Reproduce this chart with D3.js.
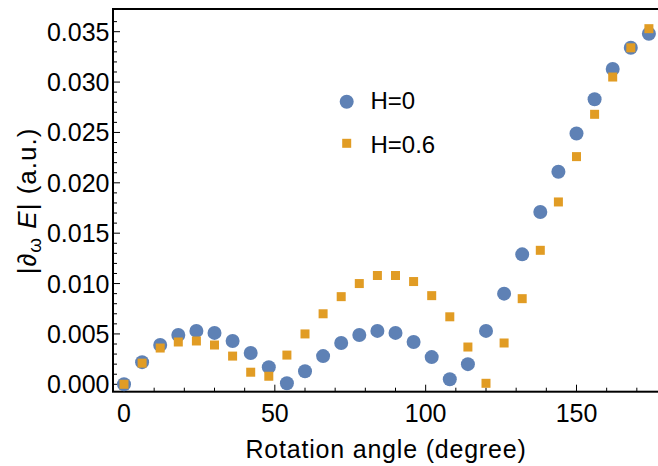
<!DOCTYPE html>
<html>
<head>
<meta charset="utf-8">
<script src="https://cdn.jsdelivr.net/npm/d3@7"></script>
<style>
  html, body { margin: 0; padding: 0; background: #fff; }
  svg { display: block; font-family: "Liberation Sans", Arial, sans-serif; }
</style>
</head>
<body>
<svg id="chart" width="658" height="466"></svg>
<script>
// ---- data ----
const angles = [0, 6, 12, 18, 24, 30, 36, 42, 48, 54, 60, 66, 72, 78, 84, 90, 96, 102, 108, 114, 120, 126, 132, 138, 144, 150, 156, 162, 168, 174];
const seriesH0 = [0.0000, 0.0022, 0.0039, 0.0049, 0.0053, 0.0051, 0.0043, 0.0031, 0.0017, 0.0001, 0.0013, 0.0028, 0.0041, 0.0049, 0.0053, 0.0051, 0.0042, 0.0027, 0.0005, 0.0020, 0.0053, 0.0090, 0.0129, 0.0171, 0.0211, 0.0249, 0.0283, 0.0313, 0.0334, 0.0348];
const seriesH06 = [0.0000, 0.0021, 0.0036, 0.0042, 0.0043, 0.0039, 0.0028, 0.0012, 0.0008, 0.0029, 0.0050, 0.0070, 0.0087, 0.0100, 0.0108, 0.0108, 0.0102, 0.0088, 0.0067, 0.0037, 0.0001, 0.0041, 0.0085, 0.0133, 0.0181, 0.0226, 0.0268, 0.0305, 0.0334, 0.0353];
const seriesNames = ["H=0", "H=0.6"];
const xTicks = [0, 50, 100, 150];
const yTicks = [0, 0.005, 0.010, 0.015, 0.020, 0.025, 0.030, 0.035];
const xLabel = "Rotation angle (degree)";

const blue = "#5E81B5", orange = "#E19C24";

const svg = d3.select("#chart");
const frame = { left: 113, right: 662, top: 9, bottom: 391.7 };

const x = d3.scaleLinear().domain([0, 150]).range([124, 576.5]);
const y = d3.scaleLinear().domain([0, 0.035]).range([384.3, 31.7]);

// frame
svg.append("rect")
  .attr("x", frame.left).attr("y", frame.top)
  .attr("width", frame.right - frame.left).attr("height", frame.bottom - frame.top)
  .attr("fill", "none").attr("stroke", "#000").attr("stroke-width", 2);

// x ticks (inward)
const xMinor = d3.range(0, 180, 10);
svg.append("g").selectAll("line").data(xMinor).join("line")
  .attr("x1", d => x(d)).attr("x2", d => x(d))
  .attr("y1", frame.bottom).attr("y2", d => frame.bottom - (d % 50 === 0 ? 7 : 4))
  .attr("stroke", "#000").attr("stroke-width", 1);
svg.append("g").selectAll("text").data(xTicks).join("text")
  .attr("x", d => x(d)).attr("y", 421.5)
  .attr("text-anchor", "middle").attr("font-size", 25).attr("fill", "#000")
  .text(d => d3.format("d")(d));

// y ticks (inward)
const yMinor = d3.range(0, 0.0365, 0.001);
svg.append("g").selectAll("line").data(yMinor).join("line")
  .attr("x1", frame.left).attr("x2", (d, i) => frame.left + (i % 5 === 0 ? 7 : 4))
  .attr("y1", d => y(d)).attr("y2", d => y(d))
  .attr("stroke", "#000").attr("stroke-width", 1);
svg.append("g").selectAll("text").data(yTicks).join("text")
  .attr("x", 109.5).attr("y", d => y(d))
  .attr("dy", "0.36em")
  .attr("text-anchor", "end").attr("font-size", 25).attr("fill", "#000")
  .text(d => d3.format(".3f")(d));

// axis titles
svg.append("text")
  .attr("x", 386).attr("y", 457.7)
  .attr("text-anchor", "middle").attr("font-size", 25).attr("letter-spacing", 0.8).attr("fill", "#000")
  .text(xLabel);

const yt = svg.append("text")
  .attr("transform", "translate(36,201) rotate(-90)")
  .attr("text-anchor", "middle").attr("font-size", 26).attr("letter-spacing", 1).attr("fill", "#000");
yt.append("tspan").text("|\u2202");
yt.append("tspan").attr("font-size", 19).attr("dy", 5).text("\u03C9");
yt.append("tspan").attr("dy", -5).text("\u00A0");
yt.append("tspan").attr("font-style", "italic").text("E");
yt.append("tspan").text("|\u00A0(a.u.)");

// data: H=0 circles
svg.append("g").selectAll("circle").data(angles).join("circle")
  .attr("cx", d => x(d)).attr("cy", (d, i) => y(seriesH0[i]))
  .attr("r", 7).attr("fill", blue);

// data: H=0.6 squares
const sq = 9;
svg.append("g").selectAll("rect").data(angles).join("rect")
  .attr("x", d => x(d) - sq / 2).attr("y", (d, i) => y(seriesH06[i]) - sq / 2)
  .attr("width", sq).attr("height", sq).attr("fill", orange);

// legend
const lg = svg.append("g");
lg.append("circle").attr("cx", 346.7).attr("cy", 101.7).attr("r", 7).attr("fill", blue);
lg.append("text").attr("x", 370.5).attr("y", 109.3).attr("font-size", 24).attr("fill", "#000").text(seriesNames[0]);
lg.append("rect").attr("x", 346.7 - sq / 2).attr("y", 143.3 - sq / 2).attr("width", sq).attr("height", sq).attr("fill", orange);
lg.append("text").attr("x", 370.5).attr("y", 152.7).attr("font-size", 24).attr("fill", "#000").text(seriesNames[1]);
</script>
</body>
</html>
